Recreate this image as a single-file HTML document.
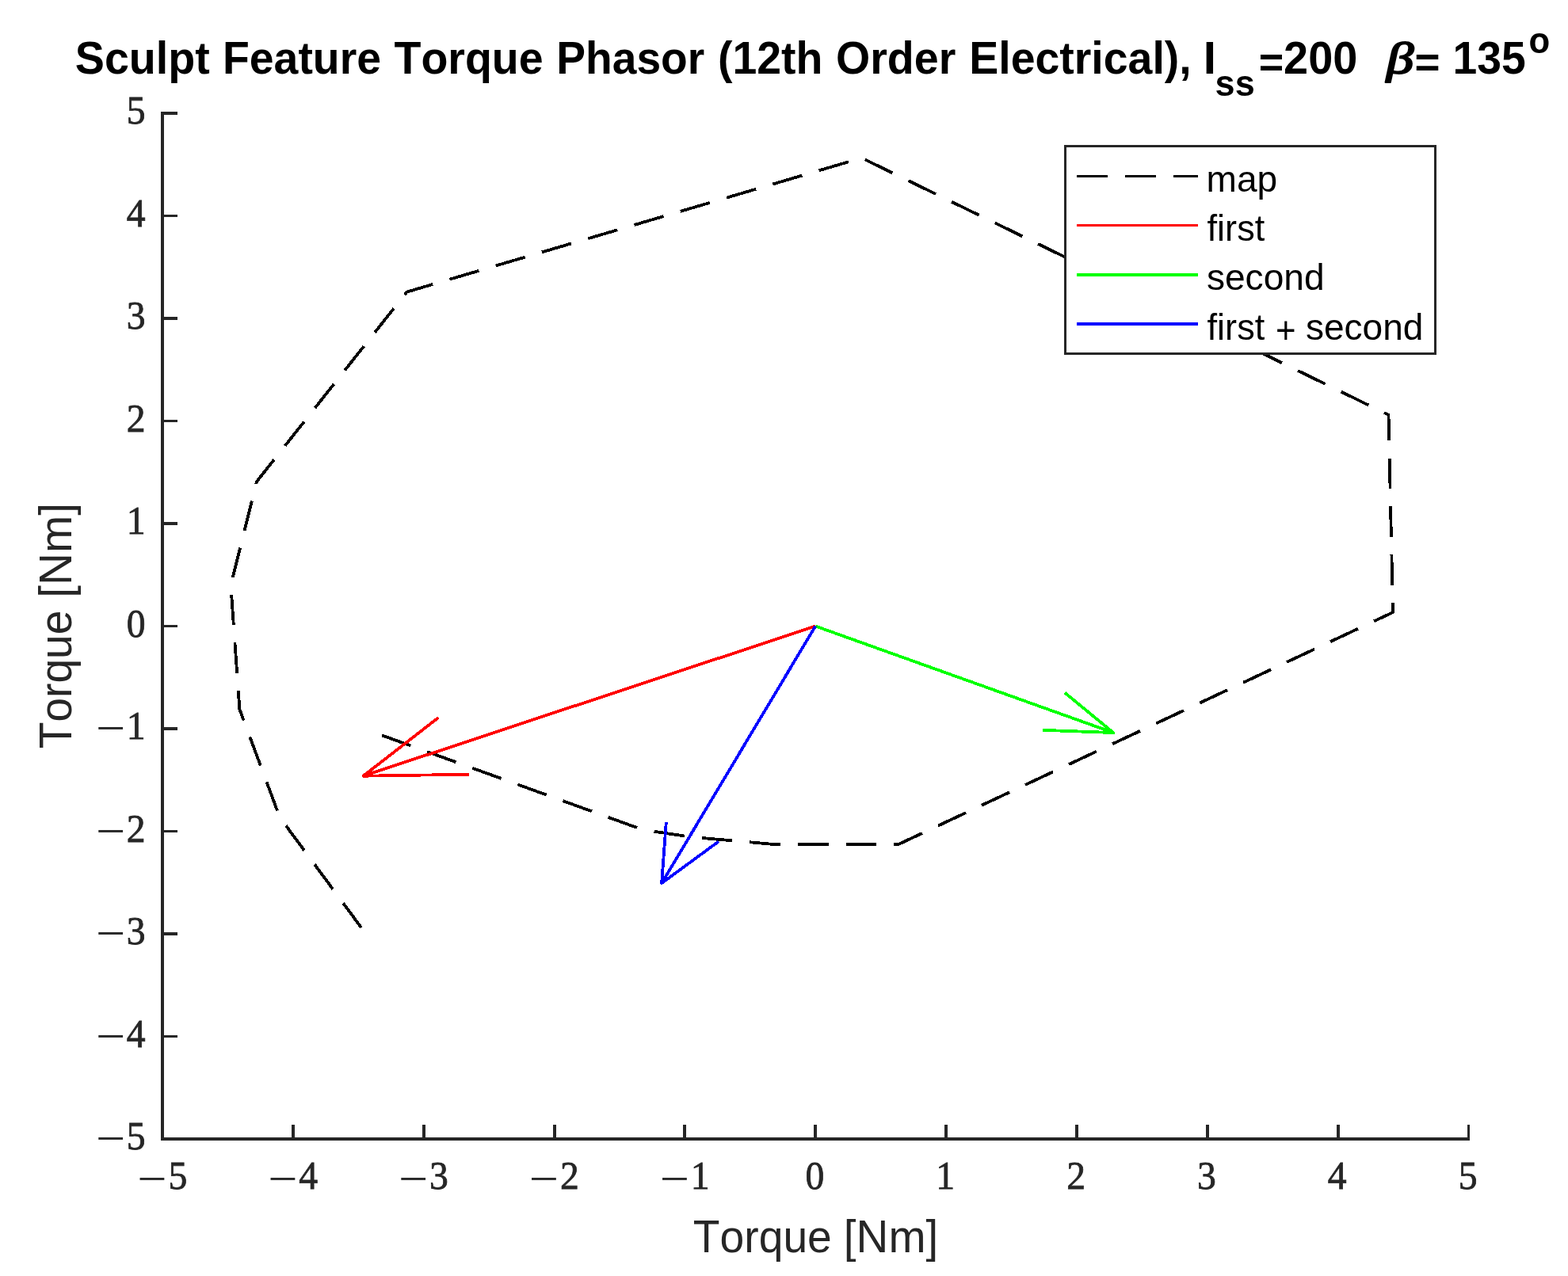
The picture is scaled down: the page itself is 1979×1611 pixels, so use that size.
<!DOCTYPE html>
<html lang="en"><head><meta charset="utf-8"><title>Sculpt Feature Torque Phasor</title>
<style>html,body{margin:0;padding:0;background:#fff}body{width:1979px;height:1611px;overflow:hidden}svg{display:block}text{font-kerning:none;white-space:pre}</style>
</head><body>
<svg width="1979" height="1611" viewBox="0 0 1979 1611" role="img" aria-label="Sculpt Feature Torque Phasor plot">
<rect x="0" y="0" width="1979" height="1611" fill="#fff"/>
<g fill="none" stroke-linecap="butt" stroke-linejoin="round" shape-rendering="crispEdges">
<polyline points="455.9,1171.0 353.1,1031.9 302.4,895.5 291.3,739.0 324.0,608.0 513.5,368.6 1087.6,199.4 1752.5,523.8 1758.0,773.1 1134.0,1066.0 977.0,1066.0 872.6,1056.8 811.2,1047.6 481.6,928.2" stroke="#000" stroke-width="3.8" stroke-dasharray="38.6 22.17" stroke-dashoffset="0.4"/>
<path d="M1029.2,790.5 L458.5,979.7 M591.9,977.7 L458.5,979.7 L553.3,906.0" stroke="#ff0000" stroke-width="3.8"/>
<path d="M1029.2,790.5 L1405.3,925.1 M1343.8,874.5 L1405.3,925.1 L1316.4,921.8" stroke="#00ff00" stroke-width="3.8"/>
<path d="M1029.2,790.5 L835.1,1115.1 M907.0,1062.4 L835.1,1115.1 L840.8,1038.0" stroke="#0000ff" stroke-width="3.8"/>
</g>
<g fill="#262626" shape-rendering="crispEdges">
<rect x="203" y="141" width="4" height="1299"/>
<rect x="203" y="1436" width="1652" height="4"/>
<rect x="205" y="1436" width="19" height="4"/>
<rect x="368" y="1420" width="4" height="18"/>
<rect x="205" y="1307" width="19" height="3"/>
<rect x="533" y="1420" width="4" height="18"/>
<rect x="205" y="1177" width="19" height="4"/>
<rect x="698" y="1420" width="4" height="18"/>
<rect x="205" y="1048" width="19" height="3"/>
<rect x="862" y="1420" width="4" height="18"/>
<rect x="205" y="918" width="19" height="4"/>
<rect x="1027" y="1420" width="4" height="18"/>
<rect x="205" y="789" width="19" height="3"/>
<rect x="1192" y="1420" width="4" height="18"/>
<rect x="205" y="659" width="19" height="4"/>
<rect x="1357" y="1420" width="4" height="18"/>
<rect x="205" y="530" width="19" height="3"/>
<rect x="1522" y="1420" width="4" height="18"/>
<rect x="205" y="400" width="19" height="4"/>
<rect x="1687" y="1420" width="4" height="18"/>
<rect x="205" y="271" width="19" height="3"/>
<rect x="1852" y="1420" width="3" height="18"/>
<rect x="205" y="141" width="19" height="4"/>
</g>
<g fill="#262626" stroke="#262626" stroke-width="0.8" style="font-family:'Liberation Serif',serif;font-size:51.3px">
<text stroke="none" transform="translate(173.29,1508.09) scale(1.2891,1.15)">−</text><text text-anchor="middle" transform="translate(224.33,1501.00) scale(0.93,1)">5</text>
<text stroke="none" transform="translate(338.14,1508.09) scale(1.2891,1.15)">−</text><text text-anchor="middle" transform="translate(389.18,1501.00) scale(0.93,1)">4</text>
<text stroke="none" transform="translate(502.99,1508.09) scale(1.2891,1.15)">−</text><text text-anchor="middle" transform="translate(554.03,1501.00) scale(0.93,1)">3</text>
<text stroke="none" transform="translate(667.84,1508.09) scale(1.2891,1.15)">−</text><text text-anchor="middle" transform="translate(718.88,1501.00) scale(0.93,1)">2</text>
<text stroke="none" transform="translate(832.69,1508.09) scale(1.2891,1.15)">−</text><text text-anchor="middle" transform="translate(883.73,1501.00) scale(0.93,1)">1</text>
<text text-anchor="middle" transform="translate(1028.35,1501.00) scale(0.93,1)">0</text>
<text text-anchor="middle" transform="translate(1193.20,1501.00) scale(0.93,1)">1</text>
<text text-anchor="middle" transform="translate(1358.05,1501.00) scale(0.93,1)">2</text>
<text text-anchor="middle" transform="translate(1522.90,1501.00) scale(0.93,1)">3</text>
<text text-anchor="middle" transform="translate(1687.75,1501.00) scale(0.93,1)">4</text>
<text text-anchor="middle" transform="translate(1852.60,1501.00) scale(0.93,1)">5</text>
<text stroke="none" transform="translate(120.97,1457.49) scale(1.2891,1.15)">−</text><text text-anchor="middle" transform="translate(171.60,1451.00) scale(0.93,1)">5</text>
<text stroke="none" transform="translate(120.97,1327.99) scale(1.2891,1.15)">−</text><text text-anchor="middle" transform="translate(171.60,1321.50) scale(0.93,1)">4</text>
<text stroke="none" transform="translate(120.97,1198.49) scale(1.2891,1.15)">−</text><text text-anchor="middle" transform="translate(171.60,1192.00) scale(0.93,1)">3</text>
<text stroke="none" transform="translate(120.97,1068.99) scale(1.2891,1.15)">−</text><text text-anchor="middle" transform="translate(171.60,1062.50) scale(0.93,1)">2</text>
<text stroke="none" transform="translate(120.97,939.49) scale(1.2891,1.15)">−</text><text text-anchor="middle" transform="translate(171.60,933.00) scale(0.93,1)">1</text>
<text text-anchor="middle" transform="translate(171.60,803.50) scale(0.93,1)">0</text>
<text text-anchor="middle" transform="translate(171.60,674.00) scale(0.93,1)">1</text>
<text text-anchor="middle" transform="translate(171.60,544.50) scale(0.93,1)">2</text>
<text text-anchor="middle" transform="translate(171.60,415.00) scale(0.93,1)">3</text>
<text text-anchor="middle" transform="translate(171.60,285.50) scale(0.93,1)">4</text>
<text text-anchor="middle" transform="translate(171.60,156.00) scale(0.93,1)">5</text>
</g>
<text transform="translate(874.86,1581.00) scale(0.9690,1.0000)" style="font-family:'Liberation Sans',sans-serif;font-size:57px" fill="#262626">Torque</text>
<text transform="translate(1064.87,1581.00) scale(0.9921,1.0000)" style="font-family:'Liberation Sans',sans-serif;font-size:57px" fill="#262626">[Nm]</text>
<text transform="translate(89.9,944.0) rotate(-90) translate(-1.24,0) scale(0.9667,1.0)" style="font-family:'Liberation Sans',sans-serif;font-size:57px" fill="#262626">Torque</text>
<text transform="translate(89.9,750.8) rotate(-90) translate(-4.05,0) scale(0.9965,1.0)" style="font-family:'Liberation Sans',sans-serif;font-size:57px" fill="#262626">[Nm]</text>
<g fill="#000">
<text transform="translate(94.80,92.90) scale(0.9765,1.0000)" style="font-family:'Liberation Sans',sans-serif;font-weight:bold;font-size:57px" fill="#000">Sculpt</text>
<text transform="translate(280.99,92.90) scale(0.9718,1.0000)" style="font-family:'Liberation Sans',sans-serif;font-weight:bold;font-size:57px" fill="#000">Feature</text>
<text transform="translate(497.48,92.90) scale(0.9745,1.0000)" style="font-family:'Liberation Sans',sans-serif;font-weight:bold;font-size:57px" fill="#000">Torque</text>
<text transform="translate(702.31,92.90) scale(0.9673,1.0000)" style="font-family:'Liberation Sans',sans-serif;font-weight:bold;font-size:57px" fill="#000">Phasor</text>
<text transform="translate(905.94,92.90) scale(0.9730,1.0000)" style="font-family:'Liberation Sans',sans-serif;font-weight:bold;font-size:57px" fill="#000">(12th</text>
<text transform="translate(1054.92,92.90) scale(0.9755,1.0000)" style="font-family:'Liberation Sans',sans-serif;font-weight:bold;font-size:57px" fill="#000">Order</text>
<text transform="translate(1223.29,92.90) scale(0.9726,1.0000)" style="font-family:'Liberation Sans',sans-serif;font-weight:bold;font-size:57px" fill="#000">Electrical),</text>
<text transform="translate(1518.80,92.90) scale(1.0231,1.0000)" style="font-family:'Liberation Sans',sans-serif;font-weight:bold;font-size:57px" fill="#000">I</text>
<text transform="translate(1533.62,121.00) scale(0.9884,1.0000)" style="font-family:'Liberation Sans',sans-serif;font-weight:bold;font-size:45.6px" fill="#000">ss</text>
<text transform="translate(1588.77,97.40) scale(0.9446,0.9300)" style="font-family:'Liberation Sans',sans-serif;font-weight:bold;font-size:57px" fill="#000">=</text>
<text transform="translate(1620.06,92.90) scale(0.9803,1.0000)" style="font-family:'Liberation Sans',sans-serif;font-weight:bold;font-size:57px" fill="#000">200</text>
<text transform="translate(1750.11,92.20) scale(1.2714,1.0000)" style="font-family:'Liberation Serif',serif;font-style:italic;font-size:54px" fill="#000" stroke="#000" stroke-width="2.1" stroke-linejoin="round">β</text>
<text transform="translate(1785.42,97.40) scale(0.9621,0.9300)" style="font-family:'Liberation Sans',sans-serif;font-weight:bold;font-size:57px" fill="#000">=</text>
<text transform="translate(1833.52,92.90) scale(0.9697,1.0000)" style="font-family:'Liberation Sans',sans-serif;font-weight:bold;font-size:57px" fill="#000">135</text>
<text transform="translate(1929.49,67.30) scale(0.9592,1.0000)" style="font-family:'Liberation Sans',sans-serif;font-weight:bold;font-size:45.6px" fill="#000">o</text>
</g>
<rect x="1344.5" y="184.5" width="467" height="262" fill="#fff" stroke="#262626" stroke-width="3" shape-rendering="crispEdges"/>
<g shape-rendering="crispEdges">
<rect x="1359" y="221" width="39" height="3" fill="#000"/><rect x="1420" y="221" width="39" height="3" fill="#000"/><rect x="1481" y="221" width="31" height="3" fill="#000"/>
<rect x="1359" y="283" width="153" height="3" fill="#ff0000"/>
<rect x="1359" y="345" width="153" height="4" fill="#00ff00"/>
<rect x="1359" y="407" width="153" height="4" fill="#0000ff"/>
</g>
<text transform="translate(1522.54,241.60) scale(0.9947,0.9850)" style="font-family:'Liberation Sans',sans-serif;font-size:46.3px" fill="#000">map</text>
<text transform="translate(1523.56,304.20) scale(0.9744,0.9850)" style="font-family:'Liberation Sans',sans-serif;font-size:46.3px" fill="#000">first</text>
<text transform="translate(1522.92,366.30) scale(0.9957,0.9850)" style="font-family:'Liberation Sans',sans-serif;font-size:46.3px" fill="#000">second</text>
<text transform="translate(1523.56,428.50) scale(0.9744,0.9850)" style="font-family:'Liberation Sans',sans-serif;font-size:46.3px" fill="#000">first</text>
<text transform="translate(1609.96,433.40) scale(0.9469,1.0300)" style="font-family:'Liberation Sans',sans-serif;font-size:46.3px" fill="#000">+</text>
<text transform="translate(1647.92,428.50) scale(0.9950,0.9850)" style="font-family:'Liberation Sans',sans-serif;font-size:46.3px" fill="#000">second</text>
</svg>
</body></html>
